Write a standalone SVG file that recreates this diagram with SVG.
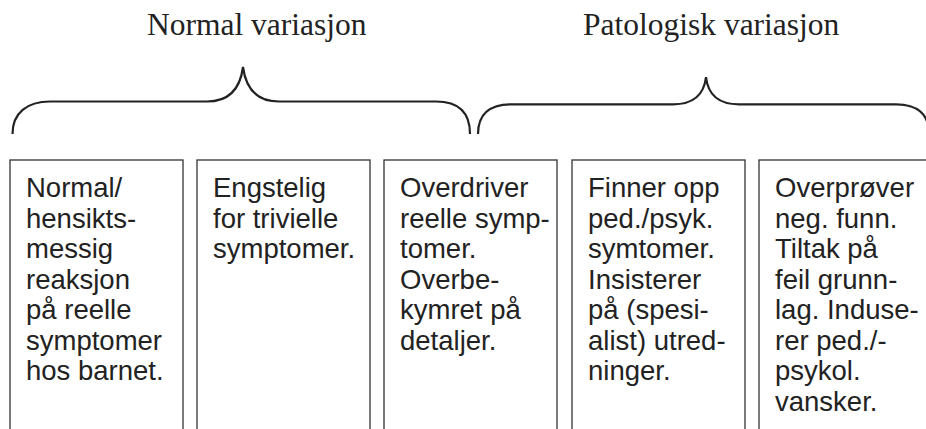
<svg xmlns="http://www.w3.org/2000/svg" width="926" height="429" viewBox="0 0 926 429">
<style>
.title{font-family:"Liberation Serif","Times New Roman",serif;font-size:31.5px;fill:#222}
.box{fill:#fff;stroke:#333;stroke-width:1.3}
.txt{font-family:"Liberation Sans",Arial,sans-serif;font-size:27.5px;fill:#222}
.brace{fill:none;stroke:#222;stroke-width:2.2;stroke-linecap:butt}
</style>
<rect width="926" height="429" fill="#fff"/>
<g id="titles">
<text class="title" x="147" y="35">Normal variasjon</text>
<text class="title" x="583" y="35">Patologisk variasjon</text>
</g>
<g id="connectors">
<path class="brace" d="M12.5,134 C12.5,113 27,101.5 50,101.5 L207,101.5 C228,101.5 240,90 243,67 C246,90 258,101.5 279,101.5 L436,101.5 C459,101.5 470,113 470,134"/>
<path class="brace" d="M478,134 C478,114 490,104.3 511,104.3 L673,104.3 C694,104.3 704,95 706,77 C708,95 718,104.3 739,104.3 L896,104.3 C917,104.3 929,114 929,134"/>
</g>
<g id="box1">
<rect class="box" x="10" y="160" width="173" height="290"/>
<text class="txt"><tspan x="26" y="197">Normal/</tspan><tspan x="26" y="227.5">hensikts-</tspan><tspan x="26" y="258">messig</tspan><tspan x="26" y="288.5">reaksjon</tspan><tspan x="26" y="319">på reelle</tspan><tspan x="26" y="349.5">symptomer</tspan><tspan x="26" y="380">hos barnet.</tspan></text>
</g>
<g id="box2">
<rect class="box" x="197" y="160" width="173" height="290"/>
<text class="txt"><tspan x="213" y="197">Engstelig</tspan><tspan x="213" y="227.5">for trivielle</tspan><tspan x="213" y="258">symptomer.</tspan></text>
</g>
<g id="box3">
<rect class="box" x="384" y="160" width="173" height="290"/>
<text class="txt"><tspan x="400" y="197">Overdriver</tspan><tspan x="400" y="227.5">reelle symp-</tspan><tspan x="400" y="258">tomer.</tspan><tspan x="400" y="288.5">Overbe-</tspan><tspan x="400" y="319">kymret på</tspan><tspan x="400" y="349.5">detaljer.</tspan></text>
</g>
<g id="box4">
<rect class="box" x="572" y="160" width="173" height="290"/>
<text class="txt"><tspan x="588" y="197">Finner opp</tspan><tspan x="588" y="227.5">ped./psyk.</tspan><tspan x="588" y="258">symtomer.</tspan><tspan x="588" y="288.5">Insisterer</tspan><tspan x="588" y="319">på (spesi-</tspan><tspan x="588" y="349.5">alist) utred-</tspan><tspan x="588" y="380">ninger.</tspan></text>
</g>
<g id="box5">
<rect class="box" x="759" y="160" width="200" height="290"/>
<text class="txt"><tspan x="775" y="197">Overprøver</tspan><tspan x="775" y="227.5">neg. funn.</tspan><tspan x="775" y="258">Tiltak på</tspan><tspan x="775" y="288.5">feil grunn-</tspan><tspan x="775" y="319">lag. Induse-</tspan><tspan x="775" y="349.5">rer ped./-</tspan><tspan x="775" y="380">psykol.</tspan><tspan x="775" y="410.5">vansker.</tspan></text>
</g>
</svg>
